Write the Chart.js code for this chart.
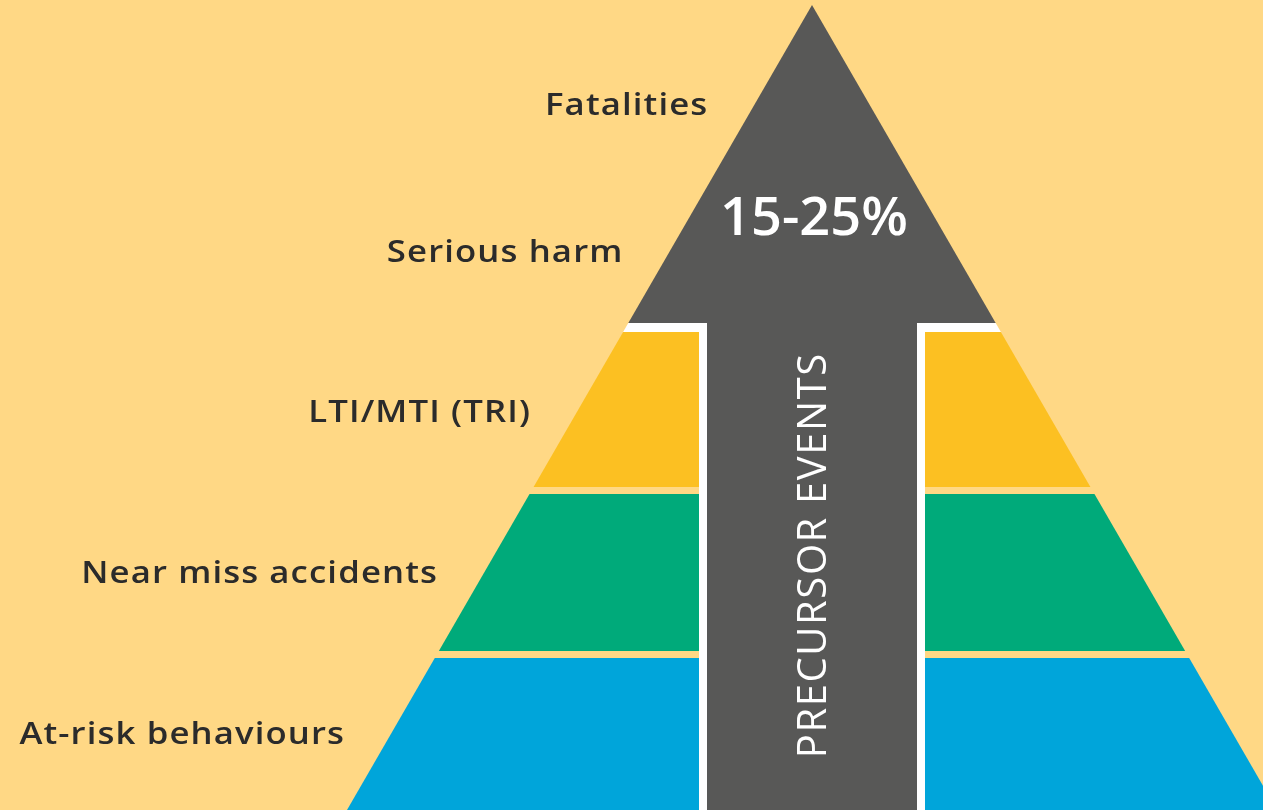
<!DOCTYPE html>
<html>
<head>
<meta charset="utf-8">
<script src="https://cdn.jsdelivr.net/npm/chart.js@4.4.1/dist/chart.umd.min.js"></script>
<style>
  html, body { margin: 0; padding: 0; background: #FFD885; overflow: hidden; }
  #wrap { width: 1263px; height: 810px; }
</style>
</head>
<body>
<div id="wrap"><canvas id="c" width="1263" height="810"></canvas></div>
<script>
// ---- Data ----
const levels = ['Fatalities', 'Serious harm', 'LTI/MTI (TRI)', 'Near miss accidents', 'At-risk behaviours'];
// vertical position (cap-centre) of each level label, in pyramid units (0 = top, 810 = base)
const levelLabelY = [103, 250, 410, 571, 732];
// coloured bands (LTI, Near miss, At-risk): top and bottom in pyramid units
const bandTop = [332, 494, 658];
const bandBottom = [487, 651, 810];
const bandColors = ['#FCC022', '#00AA7A', '#00A5DA'];
// arrow: head ends where the coloured bands begin
const arrowHeadBottom = [323];
const centreText = ['15-25%'];
const arrowText = ['PRECURSOR EVENTS'];

// ---- Geometry / style (not data) ----
const GEO = {
  apexX: 812, apexY: 5, baseY: 810, baseHalf: 465,
  shaftHalf: 105, outline: 8, labelGap: 48
};
const COL = { bg: '#FFD885', gray: '#585857', white: '#FFFFFF', text: '#2B2B2B' };

const slope = GEO.baseHalf / (GEO.baseY - GEO.apexY);
const leftX = y => GEO.apexX - slope * (y - GEO.apexY);
const rightX = y => GEO.apexX + slope * (y - GEO.apexY);
const poly = pts => pts.concat([pts[0]]).map(p => ({ x: p[0], y: p[1] }));

const datasets = [];
const shapeDs = (pts, color, order) => ({
  data: poly(pts), showLine: true, fill: 'shape',
  backgroundColor: color, borderColor: color, borderWidth: 0,
  pointRadius: 0, pointHoverRadius: 0, order, tension: 0
});

// gray arrow head (top triangle) and shaft - on top
const hb = arrowHeadBottom[0];
datasets.push(shapeDs([[GEO.apexX, GEO.apexY], [rightX(hb), hb], [leftX(hb), hb]], COL.gray, 1));
datasets.push(shapeDs([[GEO.apexX - GEO.shaftHalf, hb], [GEO.apexX + GEO.shaftHalf, hb],
  [GEO.apexX + GEO.shaftHalf, GEO.baseY + 10], [GEO.apexX - GEO.shaftHalf, GEO.baseY + 10]], COL.gray, 1));
// white outline
const wb = bandTop[0];
datasets.push(shapeDs([[leftX(hb), hb], [rightX(hb), hb], [rightX(wb), wb], [leftX(wb), wb]], COL.white, 2));
const so = GEO.shaftHalf + GEO.outline;
datasets.push(shapeDs([[GEO.apexX - so, hb], [GEO.apexX + so, hb],
  [GEO.apexX + so, GEO.baseY + 10], [GEO.apexX - so, GEO.baseY + 10]], COL.white, 2));
// coloured bands
bandTop.forEach((t, i) => {
  const b = bandBottom[i] + (i === bandTop.length - 1 ? 10 : 0);
  datasets.push(shapeDs([[leftX(t), t], [rightX(t), t], [rightX(b), b], [leftX(b), b]], bandColors[i], 3));
});

const textPlugin = {
  id: 'texts',
  afterDatasetsDraw(chart) {
    const { ctx, scales: { x, y } } = chart;
    ctx.save();
    // level labels (wide geometric look: slight horizontal stretch + spacing)
    ctx.fillStyle = COL.text;
    ctx.font = '600 31px "Open Sans"';
    ctx.letterSpacing = '1px';
    ctx.textAlign = 'right';
    ctx.textBaseline = 'alphabetic';
    levels.forEach((lab, i) => {
      const yy = levelLabelY[i];
      ctx.save();
      ctx.translate(x.getPixelForValue(leftX(yy) - GEO.labelGap) + 1, y.getPixelForValue(yy) + 12);
      ctx.scale(1.12, 1);
      ctx.fillText(lab, 0, 0);
      ctx.restore();
    });
    // centre percentage
    ctx.fillStyle = COL.white;
    ctx.letterSpacing = '0px';
    ctx.font = '600 52px "Open Sans"';
    ctx.textAlign = 'center';
    ctx.save();
    ctx.translate(x.getPixelForValue(GEO.apexX + 2), y.getPixelForValue(216) + 19);
    ctx.scale(1.04, 1);
    ctx.fillText(centreText[0], 0, 0);
    ctx.restore();
    // vertical arrow text
    ctx.translate(x.getPixelForValue(GEO.apexX + 3), y.getPixelForValue(556));
    ctx.rotate(-Math.PI / 2);
    ctx.font = '500 40px "Open Sans"';
    ctx.letterSpacing = '1.6px';
    ctx.textAlign = 'center';
    ctx.textBaseline = 'middle';
    ctx.fillText(arrowText[0], 0.8, 0);
    ctx.restore();
  }
};

new Chart(document.getElementById('c'), {
  type: 'scatter',
  data: { datasets },
  options: {
    responsive: false,
    animation: false,
    devicePixelRatio: 1,
    layout: { padding: 0 },
    plugins: { legend: { display: false }, tooltip: { enabled: false }, filler: { propagate: false } },
    scales: {
      x: { type: 'linear', min: 0, max: 1263, display: false },
      y: { type: 'linear', min: 0, max: 810, reverse: true, display: false }
    },
    elements: { line: { borderWidth: 0 } }
  },
  plugins: [textPlugin]
});
</script>
</body>
</html>
